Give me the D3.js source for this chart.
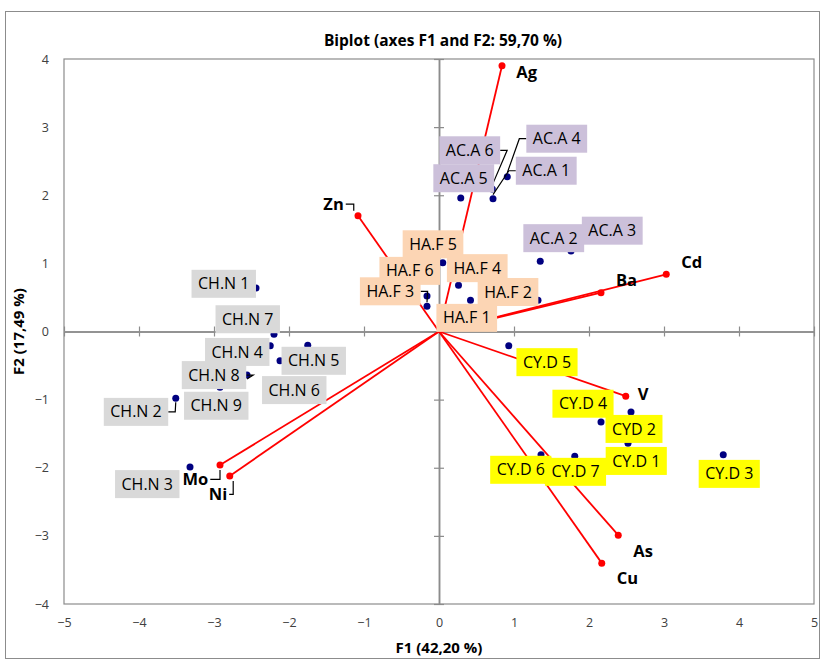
<!DOCTYPE html>
<html>
<head>
<meta charset="UTF-8">
<script src="https://cdn.jsdelivr.net/npm/d3@7"></script>
<style>
  body { margin: 0; background: #fff; }
  text { font-family: "Open Sans", Carlito, Calibri, sans-serif; }
</style>
</head>
<body>
<svg id="chart" width="824" height="661"></svg>
<script>
// observations (F1, F2 scores)
const obsNames = ["CH.N 1","CH.N 7","CH.N 4","CH.N 5","CH.N 6","CH.N 8","CH.N 9","CH.N 2","CH.N 3",
                  "AC.A 1","AC.A 4","AC.A 5","AC.A 6","AC.A 2","AC.A 3",
                  "HA.F 5","HA.F 4","HA.F 1","HA.F 6","HA.F 3","HA.F 2",
                  "CY.D 5","CYD 2","CY.D 4","CY.D 1","CY.D 6","CY.D 7","CY.D 3"];
const obsF1 = [-2.44,-2.20,-2.25,-2.12,-1.75,-2.56,-2.92,-3.51,-3.32,
               0.72,0.91,0.29,0.71,1.35,1.76,
               0.05,0.26,0.42,-0.16,-0.16,1.32,
               0.93,2.56,2.16,2.52,1.36,1.81,3.79];
const obsF2 = [0.64,-0.04,-0.21,-0.43,-0.20,-0.64,-0.82,-0.98,-1.99,
               1.95,2.27,1.96,2.09,1.03,1.18,
               1.01,0.68,0.46,0.52,0.37,0.46,
               -0.21,-1.18,-1.33,-1.64,-1.81,-1.83,-1.81];

// variables (loadings, scaled)
const varNames = ["Ag","Zn","Cd","Ba","V","As","Cu","Mo","Ni"];
const varF1 = [0.84,-1.08,3.03,2.16,2.49,2.39,2.17,-2.92,-2.79];
const varF2 = [3.90,1.70,0.84,0.57,-0.95,-2.99,-3.40,-1.96,-2.12];

const xTicks = [-5,-4,-3,-2,-1,0,1,2,3,4,5];
const yTicks = [-4,-3,-2,-1,0,1,2,3,4];

// label placement (centre of label, in axis units)
const obsLabelAt = {
  "CH.N 1":[-2.87,0.70],"CH.N 7":[-2.55,0.18],"CH.N 4":[-2.69,-0.30],"CH.N 5":[-1.67,-0.43],
  "CH.N 8":[-3.00,-0.64],"CH.N 6":[-1.93,-0.86],"CH.N 9":[-2.97,-1.09],"CH.N 2":[-4.04,-1.18],
  "CH.N 3":[-3.89,-2.24],
  "AC.A 6":[0.41,2.66],"AC.A 4":[1.57,2.83],"AC.A 5":[0.33,2.25],"AC.A 1":[1.43,2.36],
  "AC.A 2":[1.53,1.37],"AC.A 3":[2.31,1.48],
  "HA.F 5":[-0.08,1.28],"HA.F 6":[-0.39,0.89],"HA.F 4":[0.51,0.93],"HA.F 3":[-0.65,0.59],
  "HA.F 2":[0.92,0.58],"HA.F 1":[0.37,0.20],
  "CY.D 5":[1.44,-0.45],"CY.D 4":[1.92,-1.06],"CYD 2":[2.60,-1.43],"CY.D 1":[2.63,-1.90],
  "CY.D 6":[1.09,-2.03],"CY.D 7":[1.82,-2.06],"CY.D 3":[3.87,-2.09]
};
const varLabelAt = {
  "Ag":[1.03,3.81,"start"],"Zn":[-1.27,1.87,"end"],"Cd":[3.23,1.02,"start"],"Ba":[2.36,0.76,"start"],
  "V":[2.65,-0.92,"start"],"As":[2.59,-3.22,"start"],"Cu":[2.37,-3.62,"start"],
  "Mo":[-3.42,-2.17,"start"],"Ni":[-3.07,-2.39,"start"]
};
const leaders = ["CH.N 2","CH.N 8","AC.A 1","AC.A 4","AC.A 6","HA.F 3"];
const varLeaders = ["Zn","Mo","Ni"];

const groupFill = {"CH":"#d9d9d9","AC":"#ccc0da","HA":"#fcd5b4","CY":"#ffff00"};

const svg = d3.select("#chart");
const x = d3.scaleLinear().domain([-5,5]).range([64,814]);
const y = d3.scaleLinear().domain([-4,4]).range([604,59]);

// outer frame
svg.append("rect").attr("x",5.5).attr("y",11.5).attr("width",814).attr("height",647)
  .attr("fill","#fff").attr("stroke","#8c8c8c");

// title
svg.append("text").attr("x",443).attr("y",46).attr("text-anchor","middle")
  .attr("font-size",15.5).attr("font-weight","bold").text("Biplot (axes F1 and F2: 59,70 %)");

// plot border
svg.append("rect").attr("x",x(-5)).attr("y",y(4)).attr("width",x(5)-x(-5)).attr("height",y(-4)-y(4))
  .attr("fill","none").attr("stroke","#8c8c8c").attr("stroke-width",1.2);

// zero axes with crossing ticks
function crossAxis(g) {
  g.selectAll("text").remove();
  g.select(".domain").attr("stroke","#8c8c8c").attr("stroke-width",1.5);
  g.selectAll(".tick line").attr("stroke","#8c8c8c").attr("stroke-width",1.2);
}
svg.append("g").attr("transform",`translate(0,${y(0)})`)
  .call(d3.axisBottom(x).tickValues(xTicks).tickSize(5).tickSizeOuter(0)).call(crossAxis);
svg.append("g").attr("transform",`translate(0,${y(0)})`)
  .call(d3.axisTop(x).tickValues(xTicks).tickSize(5).tickSizeOuter(0)).call(crossAxis);
svg.append("g").attr("transform",`translate(${x(0)},0)`)
  .call(d3.axisLeft(y).tickValues(yTicks).tickSize(5).tickSizeOuter(0)).call(crossAxis);
svg.append("g").attr("transform",`translate(${x(0)},0)`)
  .call(d3.axisRight(y).tickValues(yTicks).tickSize(5).tickSizeOuter(0)).call(crossAxis);

// tick labels
const xl = svg.append("g").attr("transform",`translate(0,${y(-4)})`)
  .call(d3.axisBottom(x).tickValues(xTicks).tickSize(0).tickPadding(14));
const yl = svg.append("g").attr("transform",`translate(${x(-5)},0)`)
  .call(d3.axisLeft(y).tickValues(yTicks).tickSize(0).tickPadding(15));
[xl, yl].forEach(g => {
  g.select(".domain").remove();
  g.selectAll("text").attr("font-size",12.5).attr("fill","#404040")
    .style("font-family","'Open Sans', Carlito, Calibri, sans-serif");
});

// axis titles
svg.append("text").attr("x",x(0)).attr("y",653).attr("text-anchor","middle")
  .attr("font-size",15).attr("font-weight","bold").text("F1 (42,20 %)");
svg.append("text").attr("transform",`translate(24,${y(0)}) rotate(-90)`).attr("text-anchor","middle")
  .attr("font-size",15).attr("font-weight","bold").text("F2 (17,49 %)");

// variable vectors
const vars = varNames.map((n,i) => ({name:n, f1:varF1[i], f2:varF2[i]}));
svg.append("g").selectAll("line").data(vars).join("line")
  .attr("x1",x(0)).attr("y1",y(0)).attr("x2",d => x(d.f1)).attr("y2",d => y(d.f2))
  .attr("stroke","#ff0000").attr("stroke-width",1.8);
svg.append("g").selectAll("circle").data(vars).join("circle")
  .attr("cx",d => x(d.f1)).attr("cy",d => y(d.f2)).attr("r",3.5).attr("fill","#ff0000");

// observation points
const obs = obsNames.map((n,i) => ({name:n, f1:obsF1[i], f2:obsF2[i]}));
svg.append("g").selectAll("circle").data(obs).join("circle")
  .attr("cx",d => x(d.f1)).attr("cy",d => y(d.f2)).attr("r",3.5).attr("fill","#000080");

// observation labels
const leaderG = svg.append("g");
const labG = svg.append("g");
obs.forEach(d => {
  const [lx, ly] = obsLabelAt[d.name];
  const cx = x(lx), cy = y(ly);
  const g = labG.append("g");
  const rect = g.append("rect");
  const t = g.append("text").attr("x",cx).attr("y",cy).attr("dy","0.35em")
    .attr("text-anchor","middle").attr("font-size",16).attr("fill","#000").text(d.name);
  const w = t.node().getComputedTextLength() + 13, h = 28;
  rect.attr("x",cx - w/2).attr("y",cy - h/2).attr("width",w).attr("height",h)
    .attr("fill",groupFill[d.name.slice(0,2)]);
  if (leaders.includes(d.name)) {
    const px = x(d.f1), py = y(d.f2);
    const sx = px < cx ? cx - w/2 : cx + w/2;
    const ex = px < cx ? sx - 7 : sx + 7;
    leaderG.append("path").attr("d",`M${sx},${cy}H${ex}L${px},${py + (py > cy ? -4 : 4)}`)
      .attr("fill","none").attr("stroke","#000").attr("stroke-width",1.2);
  }
});

// variable labels
vars.forEach(d => {
  const [lx, ly, anchor] = varLabelAt[d.name];
  const t = svg.append("text").attr("x",x(lx)).attr("y",y(ly)).attr("dy","0.35em")
    .attr("text-anchor",anchor).attr("font-size",16.5).attr("font-weight","bold").text(d.name);
  if (varLeaders.includes(d.name)) {
    const bb = t.node().getBBox();
    const px = x(d.f1), py = y(d.f2);
    const sx = bb.x + bb.width + 2;
    const ex = d.name === "Zn" ? sx + 8 : Math.max(sx + 4, px);
    leaderG.append("path").attr("d",`M${sx},${y(ly)}H${ex}V${py + (py > y(ly) ? -5 : 5)}`)
      .attr("fill","none").attr("stroke","#000").attr("stroke-width",1.2);
  }
});
</script>
</body>
</html>
